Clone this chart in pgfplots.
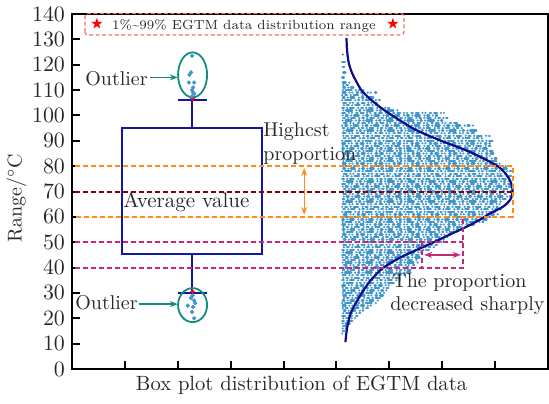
\documentclass[border=0pt]{standalone}
\usepackage{amssymb}
\usepackage{pgfplots}
\usepackage{pgfplotstable}
\pgfplotsset{compat=1.18}
\usetikzlibrary{arrows.meta}
\definecolor{boxblue}{RGB}{22,22,165}
\definecolor{curveblue}{RGB}{12,12,140}
\definecolor{scat}{RGB}{66,150,202}
\definecolor{tealc}{RGB}{20,140,125}
\definecolor{orangec}{RGB}{255,140,20}
\definecolor{darkredc}{RGB}{135,0,0}
\definecolor{magc}{RGB}{195,40,125}
\definecolor{pinkc}{RGB}{240,110,110}
\definecolor{txt}{RGB}{40,40,40}

% scatter rows: y, left end x0, right end xr
\pgfplotstableread{
y x0 xr
124 5.12 5.16
112 5.13 5.22
108 5.11 5.50
104 5.14 5.75
100 5.12 6.90
96 5.11 7.60
92 5.13 7.90
88 5.12 7.95
84 5.14 7.90
80 5.11 8.20
76 5.13 8.30
72 5.12 8.32
68 5.14 8.30
64 5.11 8.05
60 5.12 7.95
56 5.13 7.50
52 5.11 7.10
48 5.14 6.85
44 5.12 6.60
40 5.11 6.45
36 5.13 6.25
32 5.12 6.00
28 5.14 5.90
24 5.12 5.60
20 5.13 5.35
16 5.12 5.20
}\rowsA
\pgfplotstableread{
y x0 xr
121 5.11 5.16
117 5.13 5.17
113 5.12 5.26
109 5.12 5.75
105 5.13 5.80
101 5.11 7.05
97 5.14 7.30
93 5.12 7.60
89 5.11 7.90
85 5.13 8.00
81 5.12 8.15
77 5.14 8.20
73 5.11 8.28
69 5.13 8.25
65 5.12 8.10
61 5.14 8.10
57 5.11 7.60
53 5.12 7.20
49 5.13 6.90
45 5.11 6.62
41 5.14 6.50
37 5.12 6.30
33 5.11 6.05
29 5.13 5.90
25 5.12 5.65
21 5.11 5.40
17 5.13 5.22
}\rowsB
\pgfplotstableread{
y x0 xr
110 5.12 5.55
106 5.11 5.85
102 5.13 6.20
98 5.12 7.00
94 5.14 7.70
90 5.11 7.95
86 5.12 7.95
82 5.13 8.10
78 5.11 8.30
74 5.14 8.30
70 5.12 8.33
66 5.13 8.15
62 5.11 8.00
58 5.12 7.80
54 5.14 7.30
50 5.11 7.00
46 5.13 6.65
42 5.12 6.55
38 5.11 6.40
34 5.14 6.15
30 5.12 5.95
26 5.11 5.75
22 5.13 5.45
18 5.12 5.25
14 5.11 5.15
}\rowsC
\pgfplotstableread{
y x0 xr
119 5.12 5.18
115 5.11 5.20
111 5.13 5.32
107 5.12 5.70
103 5.11 6.00
99 5.13 7.10
95 5.12 7.40
91 5.14 7.80
87 5.11 7.85
83 5.12 8.05
79 5.13 8.25
75 5.11 8.25
71 5.14 8.30
67 5.12 8.20
63 5.13 8.15
59 5.11 7.85
55 5.12 7.40
51 5.14 7.05
47 5.11 6.75
43 5.13 6.55
39 5.12 6.40
35 5.11 6.20
31 5.13 5.95
27 5.12 5.80
23 5.14 5.50
19 5.11 5.30
15 5.12 5.17
}\rowsD

\begin{document}
\begin{tikzpicture}
\begin{axis}[
  at={(0,0)}, anchor=south west,
  scale only axis, width=238pt, height=177.5pt,
  xmin=0, xmax=9, ymin=0, ymax=140,
  axis line style={line width=1pt},
  xtick={1,...,8}, xticklabels={},
  ytick={0,10,...,140},
  tick align=inside,
  xtick pos=bottom, ytick pos=left,
  major tick length=4pt,
  every tick/.style={black, line width=1pt},
  yticklabel style={font=\fontsize{10.5}{12}\selectfont, text=txt},
  clip=false,
  scatrow/.style={scat, line width=1.2pt, line cap=round, no markers,
    quiver={u=\thisrow{xr}-\thisrow{x0}, v=0}},
]
% scatter rows (dotted)
\addplot[scatrow, dash pattern=on 0pt off 1.5pt on 0.9pt off 1.8pt on 0pt off 1.5pt on 2.2pt off 2.3pt]
  table[x=x0, y=y] {\rowsA};
\addplot[scatrow, dash pattern=on 1.4pt off 1.9pt on 0pt off 1.5pt on 0pt off 2.2pt on 0.6pt off 1.6pt]
  table[x=x0, y=y] {\rowsB};
\addplot[scatrow, dash pattern=on 0pt off 1.4pt on 3.0pt off 2.1pt on 0pt off 1.5pt on 0.5pt off 1.8pt]
  table[x=x0, y=y] {\rowsC};
\addplot[scatrow, dash pattern=on 0.8pt off 1.7pt on 0pt off 1.4pt on 1.8pt off 2.3pt on 0pt off 1.5pt]
  table[x=x0, y=y] {\rowsD};

% distribution curve
\addplot[curveblue, line width=1.1pt, smooth, no markers] coordinates {
(5.19,130.5) (5.20,126) (5.23,121) (5.29,117) (5.36,114) (5.47,110) (5.61,107)
(5.78,104) (5.98,101) (6.24,97.5) (6.53,94) (6.98,90) (7.48,86) (7.78,83)
(8.05,80) (8.20,77) (8.29,74) (8.33,71) (8.32,68.5) (8.28,66.6) (8.15,64)
(7.92,61.5) (7.68,58.5) (7.41,55.6) (7.14,53) (6.84,50) (6.52,47) (6.21,44)
(6.00,41.5) (5.83,39) (5.65,35) (5.51,31) (5.38,26.5) (5.27,22) (5.20,16) (5.17,10.6)};

% box plot
\addplot[boxblue, line width=1pt, line cap=rect, line join=miter, no markers] coordinates {
(0.945,45.3) (3.592,45.3) (3.592,95) (0.945,95) (0.945,45.3)};
\addplot[boxblue, line width=1pt, no markers] coordinates {(2.278,95) (2.278,106)};
\addplot[boxblue, line width=1pt, no markers] coordinates {(2.004,106) (2.552,106)};
\addplot[boxblue, line width=1pt, no markers] coordinates {(2.278,45.3) (2.278,30)};
\addplot[boxblue, line width=1pt, no markers] coordinates {(2.004,30) (2.552,30)};
\addplot[only marks, mark=*, mark size=0.9pt, red] coordinates {(2.278,106.6) (2.278,30.5)};

% outliers
\addplot[only marks, mark=*, mark size=0.85pt, scat] coordinates {
(2.27,123.5) (2.25,117) (2.22,116) (2.21,113) (2.31,113) (2.29,111) (2.27,110)
(2.29,109) (2.31,108.5) (2.27,107.5)};
\addplot[only marks, mark=*, mark size=0.85pt, scat] coordinates {
(2.28,29) (2.25,28) (2.31,27) (2.33,26) (2.19,25) (2.29,24.5) (2.27,22.5) (2.31,20)};
\draw[tealc, line width=0.9pt] (axis cs:2.28,116) ellipse [x radius=7.25pt, y radius=11.25pt];
\draw[tealc, line width=0.9pt] (axis cs:2.28,25.2) ellipse [x radius=7.25pt, y radius=8.5pt];
\draw[tealc, line width=0.6pt, -{Stealth[length=4pt,width=3pt]}] (axis cs:1.48,115) -- (axis cs:2.0,115);
\draw[tealc, line width=0.6pt, -{Stealth[length=4pt,width=3pt]}] (axis cs:1.27,25.6) -- (axis cs:2.0,25.6);

% reference lines
\addplot[orangec, line width=1pt, dash pattern=on 2.5pt off 1.5pt, no markers] coordinates {(0.05,80) (8.33,80) (8.33,60) (0.05,60)};
\addplot[darkredc, line width=1pt, dash pattern=on 2.5pt off 1.5pt, no markers] coordinates {(0.05,70) (8.30,70)};
\addplot[magc, line width=1pt, dash pattern=on 2.5pt off 1.5pt, no markers] coordinates {(0.05,50) (7.39,50)};
\addplot[magc, line width=1pt, dash pattern=on 2.5pt off 1.5pt, no markers] coordinates {(0.05,40) (7.39,40) (7.39,60)};
\addplot[magc, line width=1pt, dash pattern=on 2.5pt off 1.5pt, no markers] coordinates {(6.62,50) (6.62,40)};
\draw[orangec, line width=0.6pt, {Stealth[length=4pt,width=3pt]}-{Stealth[length=4pt,width=3pt]}] (axis cs:4.39,79.3) -- (axis cs:4.39,60.8);
\draw[magc, line width=0.6pt, {Stealth[length=4pt,width=3pt]}-{Stealth[length=4pt,width=3pt]}] (axis cs:6.66,45) -- (axis cs:7.35,45);

% legend-like box
\draw[pinkc, dash pattern=on 2pt off 1.2pt, rounded corners=1.5pt, line width=0.6pt] (axis cs:0.246,131.7) rectangle (axis cs:6.277,140.2);
\addplot[only marks, mark=text, text mark={\textcolor{red}{$\bigstar$}}, text mark as node=true, text mark style={font=\fontsize{6.5}{8}\selectfont, inner sep=0pt}] coordinates {(0.473,136) (6.069,136)};
\node[anchor=base, inner sep=0, text=txt, font=\fontsize{6.6}{8}\selectfont] at (axis cs:3.252,133.7) {1\%\textasciitilde 99\% EGTM data distribution range};

% annotations
\node[anchor=base west, inner sep=0, text=txt, font=\fontsize{10}{12}\selectfont] at (axis cs:0.246,112) {Outlier};
\node[anchor=base west, inner sep=0, text=txt, font=\fontsize{10}{12}\selectfont] at (axis cs:0.057,23.3) {Outlier};
\node[anchor=base west, inner sep=0, text=txt, font=\fontsize{10.5}{12}\selectfont] at (axis cs:0.964,63.5) {Average value};
\node[anchor=base west, inner sep=0, text=txt, font=\fontsize{10}{12}\selectfont] at (axis cs:3.611,91.5) {Highcst};
\node[anchor=base west, inner sep=0, text=txt, font=\fontsize{10}{12}\selectfont] at (axis cs:3.611,82.4) {proportion};
\node[anchor=base west, inner sep=0, text=txt, font=\fontsize{10}{12}\selectfont] at (axis cs:6.05,32.3) {The proportion};
\node[anchor=base west, inner sep=0, text=txt, font=\fontsize{10}{12}\selectfont] at (axis cs:6.01,22.9) {decreased sharply};

% axis labels
\node[anchor=base, inner sep=0, text=txt, font=\fontsize{10.3}{12}\selectfont] at (axis cs:4.34,-8.28) {Box plot distribution of EGTM data};
\node[rotate=90, anchor=center, inner sep=0, text=txt, font=\fontsize{10}{12}\selectfont] at (axis cs:-1.049,67.4) {Range/$^{\circ}$C};
\end{axis}
\pgfresetboundingbox
\path (-36pt,-17pt) rectangle (238.5pt,184.5pt);
\end{tikzpicture}
\end{document}
